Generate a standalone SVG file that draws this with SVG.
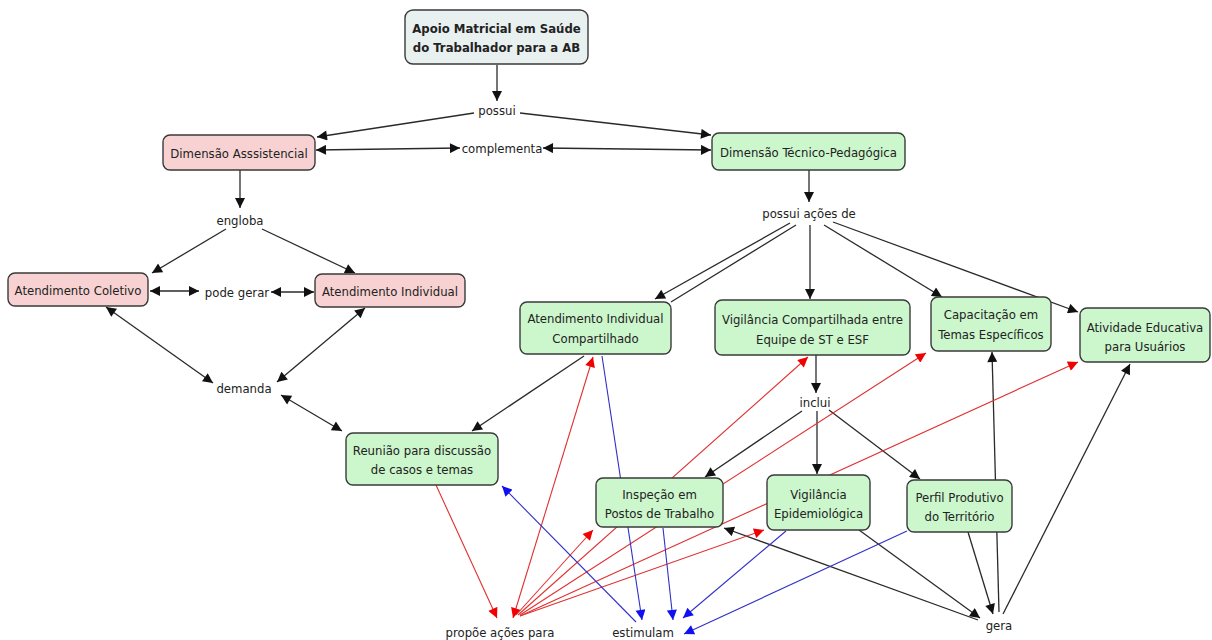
<svg xmlns="http://www.w3.org/2000/svg" width="1212" height="640" viewBox="0 0 1212 640">
<defs>
<style>
text{font-family:"DejaVu Sans Condensed","DejaVu Sans","Liberation Sans",sans-serif;font-size:13px;fill:#222;text-anchor:middle;dominant-baseline:central}
.b{font-weight:bold}
.n rect{stroke:#3a3a3a;stroke-width:1.4}
.top rect{fill:#e8f0f0}
.pink rect{fill:#f8d2d2}
.green rect{fill:#ccf6cc}
.k{stroke:#2a2a2a;stroke-width:1.3;fill:none}
.r{stroke:#e03030;stroke-width:1.1;fill:none}
.u{stroke:#3030c8;stroke-width:1.1;fill:none}
.k.e,.k.s{marker-end:url(#ak)}
.k.s{marker-start:url(#ak)}
.r.e,.r.s{marker-end:url(#ar)}
.r.s{marker-start:url(#ar)}
.u.e{marker-end:url(#au)}
</style>
<marker id="ak" viewBox="0 0 10 10" refX="10" refY="5" markerWidth="11" markerHeight="10" markerUnits="userSpaceOnUse" orient="auto-start-reverse"><path d="M0,0L10,5L0,10z" fill="#111"/></marker>
<marker id="ar" viewBox="0 0 10 10" refX="10" refY="5" markerWidth="11" markerHeight="10" markerUnits="userSpaceOnUse" orient="auto-start-reverse"><path d="M0,0L10,5L0,10z" fill="#f00000"/></marker>
<marker id="au" viewBox="0 0 10 10" refX="10" refY="5" markerWidth="11" markerHeight="10" markerUnits="userSpaceOnUse" orient="auto-start-reverse"><path d="M0,0L10,5L0,10z" fill="#1010f0"/></marker>
</defs>
<rect width="1212" height="640" fill="#fff"/>
<g id="connectors">
<path class="k e" d="M497,65L497,101"/>
<path class="k e" d="M474,113L317,137"/>
<path class="k e" d="M520,113L711,135"/>
<path class="k s" d="M316,150L460,148"/>
<path class="k s" d="M543,148L711,150"/>
<path class="k e" d="M240,170L240,208"/>
<path class="k e" d="M226,229L152,273"/>
<path class="k e" d="M262,229L355,273"/>
<path class="k s" d="M150,291L199,291"/>
<path class="k s" d="M271,292L314,292"/>
<path class="k s" d="M106,307L213,383"/>
<path class="k s" d="M365,308L277,382"/>
<path class="k s" d="M281,395L342,431"/>
<path class="k e" d="M809,170L809,202"/>
<path class="k e" d="M790,223L655,299"/>
<path class="k" d="M796,225L671,302"/>
<path class="k e" d="M810,225L810,299"/>
<path class="k e" d="M824,225L942,297"/>
<path class="k e" d="M833,222L1078,312"/>
<path class="k e" d="M584,356L472,431"/>
<path class="k e" d="M816,355L816,393"/>
<path class="k e" d="M802,411L705,477"/>
<path class="k e" d="M817,411L817,474"/>
<path class="k e" d="M829,410L920,479"/>
<path class="k e" d="M999,612L992,352"/>
<path class="k e" d="M968,532L993,614"/>
<path class="k e" d="M859,530L980,618"/>
<path class="k e" d="M978,620L724,528"/>
<path class="k e" d="M1003,614L1130,364"/>
<path class="r e" d="M436,485L497,618"/>
<path class="r s" d="M593,357L513,618"/>
<path class="r e" d="M516,615L593,530"/>
<path class="r e" d="M518,615L808,357"/>
<path class="r e" d="M520,615L926,353"/>
<path class="r e" d="M520,616L1078,362"/>
<path class="r e" d="M520,616L764,530"/>
<path class="u e" d="M602,356L642,620"/>
<path class="u e" d="M663,528L673,620"/>
<path class="u e" d="M786,531L683,618"/>
<path class="u e" d="M907,531L684,634"/>
<path class="u e" d="M636,622L502,486"/>
</g>
<g id="labels">
<text x="497" y="110">possui</text>
<text x="502" y="148">complementa</text>
<text x="240" y="220">engloba</text>
<text x="237" y="292">pode gerar</text>
<text x="244" y="388">demanda</text>
<text x="809" y="213">possui ações de</text>
<text x="815" y="402">inclui</text>
<text x="500" y="632">propõe ações para</text>
<text x="643" y="632">estimulam</text>
<text x="999" y="625">gera</text>
</g>
<g id="apoio" class="n top"><rect x="405" y="10" width="183" height="54" rx="8"/><text class="b" x="496.5" y="28">Apoio Matricial em Saúde</text><text class="b" x="496.5" y="47">do Trabalhador para a AB</text></g>
<g id="dimA" class="n pink"><rect x="163" y="135" width="152" height="35" rx="7"/><text x="239" y="153">Dimensão Asssistencial</text></g>
<g id="dimT" class="n green"><rect x="712" y="133" width="193" height="37" rx="7"/><text x="808.5" y="152">Dimensão Técnico-Pedagógica</text></g>
<g id="atColetivo" class="n pink"><rect x="8" y="273" width="140" height="33" rx="7"/><text x="78" y="290">Atendimento Coletivo</text></g>
<g id="atIndividual" class="n pink"><rect x="315" y="274" width="150" height="33" rx="7"/><text x="390" y="291">Atendimento Individual</text></g>
<g id="aic" class="n green"><rect x="520" y="302" width="151" height="52" rx="7"/><text x="595.5" y="318">Atendimento Individual</text><text x="595.5" y="338">Compartilhado</text></g>
<g id="vigComp" class="n green"><rect x="715" y="300" width="195" height="55" rx="7"/><text x="812.5" y="319">Vigilância Compartilhada entre</text><text x="812.5" y="339">Equipe de ST e ESF</text></g>
<g id="capacitacao" class="n green"><rect x="931" y="297" width="120" height="54" rx="7"/><text x="991" y="314">Capacitação em</text><text x="991" y="334">Temas Específicos</text></g>
<g id="atividade" class="n green"><rect x="1080" y="308" width="130" height="54" rx="7"/><text x="1145" y="327">Atividade Educativa</text><text x="1145" y="346">para Usuários</text></g>
<g id="reuniao" class="n green"><rect x="346" y="433" width="152" height="52" rx="7"/><text x="422" y="450">Reunião para discussão</text><text x="422" y="469">de casos e temas</text></g>
<g id="inspecao" class="n green"><rect x="596" y="478" width="127" height="49" rx="7"/><text x="659.5" y="494">Inspeção em</text><text x="659.5" y="513">Postos de Trabalho</text></g>
<g id="vigEpi" class="n green"><rect x="767" y="475" width="103" height="55" rx="7"/><text x="818.5" y="494">Vigilância</text><text x="818.5" y="513">Epidemiológica</text></g>
<g id="perfil" class="n green"><rect x="907" y="480" width="105" height="52" rx="7"/><text x="959.5" y="497">Perfil Produtivo</text><text x="959.5" y="516">do Território</text></g>
</svg>
